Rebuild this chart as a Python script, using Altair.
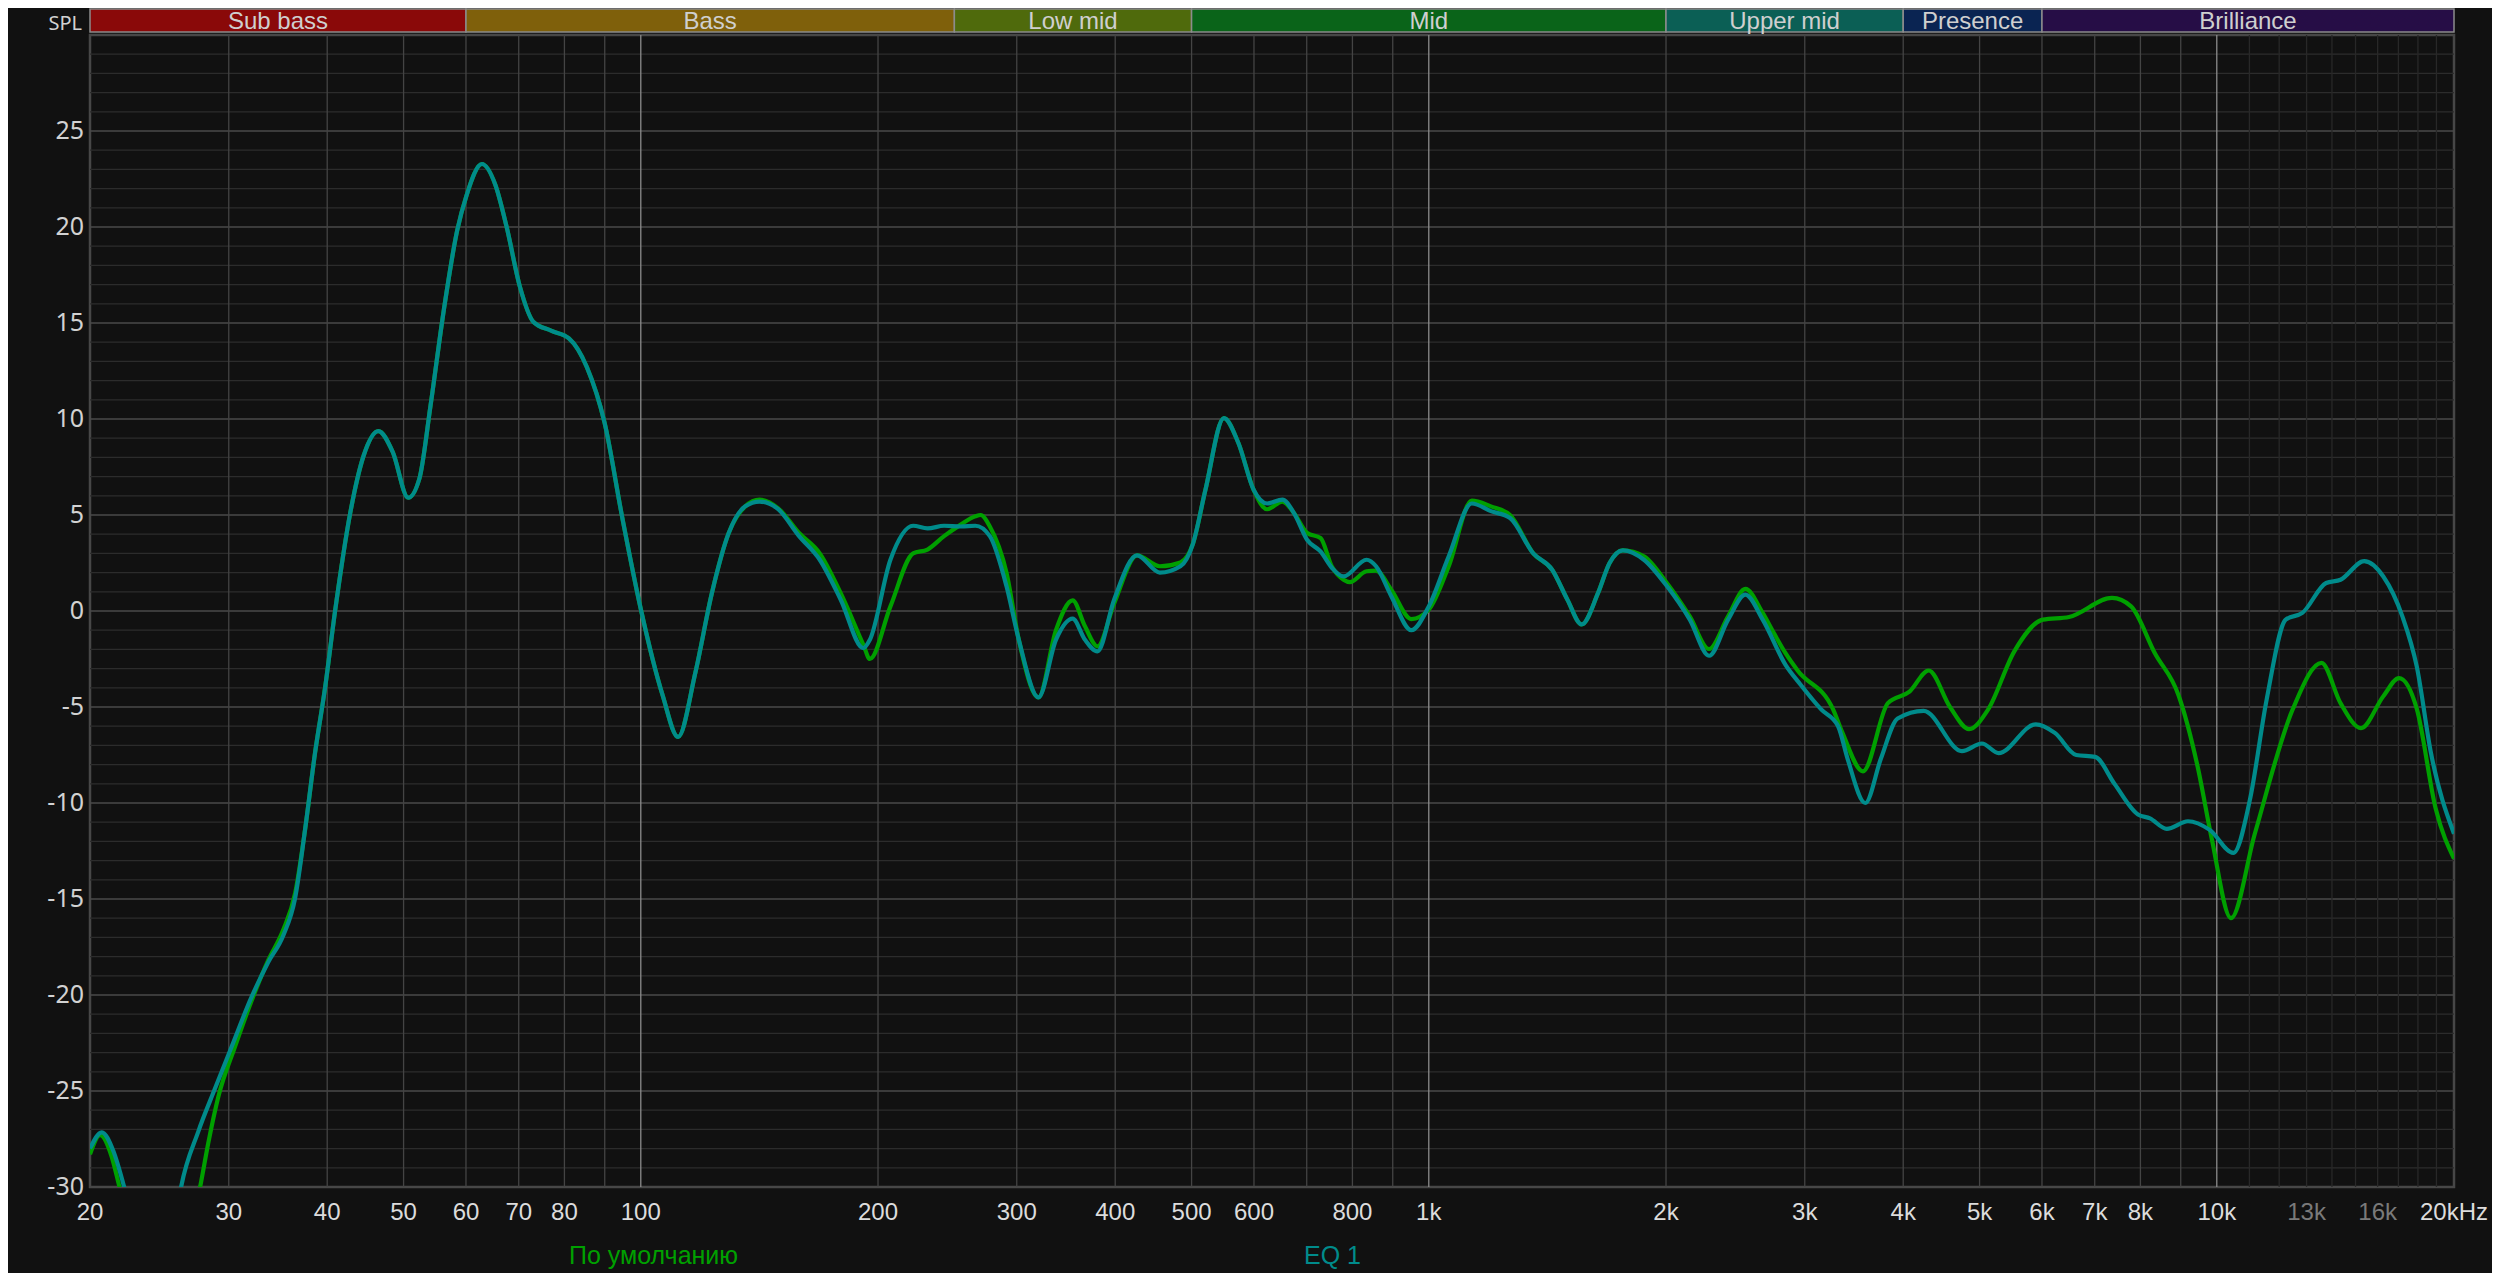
import altair as alt
import pandas as pd

# ---------------- data ----------------
SERIES_NAMES = ["По умолчанию", "EQ 1"]
SERIES_COLORS = ["#00a000", "#008b8b"]

# "По умолчанию" (green)
DEF_FREQ = [20.0, 20.6, 21.3, 21.8, 23.0, 25.0, 26.5, 27.59, 28.26, 29.1, 30.55, 32.07, 33.66, 35.18, 36.42,
            37.49, 38.6, 39.75, 40.93, 42.78, 44.5, 46.45, 48.42, 50.69, 52.37, 54.1, 56.25, 58.5, 60.05,
            62.86, 65.37, 67.53, 70.23, 73.03, 76.93, 81.06, 85.42, 89.96, 94.8, 100, 106.6, 111.5, 117.3,
            123.1, 129.3, 135.7, 141.5, 149.4, 158.8, 168.7, 179.3, 191.6, 195.3, 207.4, 221.6, 231.1, 242.6,
            254.7, 265.8, 269.9, 277.3, 291.1, 301.8, 319.6, 336.4, 353.2, 366.2, 379.8, 398.8, 426.3, 455.7,
            484.0, 502, 520.6, 549.5, 573.3, 599.6, 623.5, 652, 674.4, 701, 728.8, 753.7, 779.5, 794, 833.7,
            857.2, 896.5, 950.2, 1000, 1060, 1134, 1199, 1268, 1357, 1434, 1499, 1563, 1640, 1696, 1763, 1875,
            2005, 2144, 2268, 2398, 2522, 2653, 2741, 2836, 2938, 3260, 3350, 3556, 3825, 4074, 4309, 4586,
            4848, 5125, 5534, 6016, 6494, 7363, 7784, 8345, 8945, 9455, 9858, 10424, 11175, 12490, 13577,
            14356, 15240, 16268, 17030, 17940, 18960, 20000]
DEF_DB = [-28.3, -27.3, -28.4, -30.0, -33.5, -35.5, -33.0, -30.0, -27.7, -25.3, -22.7, -20.3, -18.2, -16.6, -14.7,
          -11.4, -7.4, -4.0, 0.0, 5.1, 8.1, 9.37, 8.3, 5.9, 6.9, 10.7, 15.7, 19.85, 21.6,
          23.28, 22.2, 20.05, 16.9, 15.07, 14.6, 14.2, 12.7, 9.8, 4.8, 0.1, -4.4, -6.56, -3.2,
          0.94, 4.06, 5.45, 5.8, 5.35, 4.06, 3.0, 0.94, -1.75, -2.5, 0.24, 3.0, 3.2, 3.9,
          4.5, 4.93, 5.0, 4.4, 2.0, -1.5, -4.5, -1.0, 0.55, -0.8, -1.84, 0.4, 2.9, 2.33,
          2.53, 3.5, 6.3, 10.05, 8.75, 6.3, 5.3, 5.7, 5.1, 4.06, 3.8, 2.3, 1.63, 1.5, 2.07,
          2.1, 1.1, -0.42, 0.07, 2.33, 5.75, 5.45, 5.0, 3.0, 2.15, 0.6, -0.7, 0.94, 2.5, 3.16, 2.85,
          1.46, -0.28, -1.98, -0.28, 1.15, -0.1, -1.15, -2.2, -3.1, -5.14, -6.35, -8.35, -4.8, -4.2, -3.1, -5.0,
          -6.15, -5.14, -2.1, -0.45, -0.31, 0.68, 0.24, -2.2, -4.4, -8.1, -11.9, -16.0, -11.6, -5.1, -2.7,
          -4.8, -6.1, -4.44, -3.5, -5.1, -10.3, -12.9]

# "EQ 1" (teal)
EQ_FREQ = [20.0, 20.7, 21.4, 22.1, 23.0, 24.5, 25.5, 26.1, 27.45, 28.8, 30.25, 32.07, 33.66, 35.18, 36.42,
           37.49, 38.6, 39.75, 40.93, 42.78, 44.5, 46.45, 48.42, 50.69, 52.37, 54.1, 56.25, 58.5, 60.05,
           62.86, 65.37, 67.53, 70.23, 73.03, 76.93, 81.06, 85.42, 89.96, 94.8, 100, 106.6, 111.5, 117.3,
           123.1, 129.3, 135.7, 141.5, 149.4, 158.8, 168.7, 179.3, 191.6, 195.3, 207.4, 221.6, 231.1, 242.6,
           254.7, 265.8, 277.3, 291.1, 301.8, 319.6, 336.4, 353.2, 366.2, 379.8, 398.8, 426.3, 455.7,
           484.0, 502, 520.6, 549.5, 573.3, 599.6, 623.5, 652, 674.4, 701, 728.8, 753.7, 779.5, 833.7,
           857.2, 896.5, 950.2, 1000, 1060, 1134, 1199, 1268, 1357, 1434, 1499, 1563, 1640, 1696, 1763, 1875,
           2005, 2144, 2268, 2398, 2522, 2653, 2836, 2959, 3150, 3307, 3400, 3580, 3747, 3935, 4246,
           4749, 5034, 5285, 5892, 6230, 6632, 7009, 7415, 7943, 8227, 8639, 9193, 9795, 10496, 11020,
           11570, 12230, 12840, 13765, 14356, 15385, 16268, 17200, 17940, 18700, 20000]
EQ_DB = [-28.0, -27.15, -28.1, -30.0, -33.0, -34.5, -32.5, -30.0, -27.1, -24.9, -22.7, -20.1, -18.3, -16.9, -14.95,
         -11.4, -7.4, -4.0, 0.0, 5.1, 8.1, 9.37, 8.3, 5.9, 6.9, 10.7, 15.7, 19.85, 21.6,
         23.28, 22.2, 20.05, 16.9, 15.07, 14.6, 14.2, 12.7, 9.8, 4.8, 0.1, -4.4, -6.56, -3.2,
         0.94, 4.06, 5.45, 5.7, 5.3, 3.9, 2.67, 0.6, -1.93, -1.5, 2.67, 4.44, 4.3, 4.44,
         4.4, 4.44, 3.9, 1.3, -1.5, -4.5, -1.5, -0.4, -1.5, -2.1, 0.6, 2.9, 2.0,
         2.33, 3.5, 6.3, 10.05, 8.75, 6.3, 5.6, 5.8, 5.1, 3.7, 3.1, 2.24, 1.8, 2.67,
         2.33, 0.76, -1.0, 0.24, 2.85, 5.6, 5.2, 4.84, 3.0, 2.15, 0.6, -0.7, 0.94, 2.5, 3.16, 2.67,
         1.3, -0.45, -2.33, -0.45, 0.85, -0.45, -2.8, -3.8, -5.14, -6.0, -7.7, -10.0, -7.7, -5.6, -5.2,
         -7.3, -6.9, -7.4, -5.9, -6.35, -7.5, -7.6, -9.0, -10.6, -10.8, -11.35, -10.95, -11.4, -12.6, -9.8,
         -4.6, -0.45, -0.1, 1.46, 1.63, 2.6, 1.8, -0.28, -2.9, -7.4, -11.6]

# frequency bands
BAND_NAMES = ["Sub bass", "Bass", "Low mid", "Mid", "Upper mid", "Presence", "Brilliance"]
BAND_LO = [20, 60, 250, 500, 2000, 4000, 6000]
BAND_HI = [60, 250, 500, 2000, 4000, 6000, 20000]
BAND_COLORS = ["#8a0909", "#7f600b", "#4f6a0c", "#0a6419", "#0b5f55", "#0a2452", "#260d46"]

# x tick labels
X_TICKS = [20, 30, 40, 50, 60, 70, 80, 100, 200, 300, 400, 500, 600, 800, 1000, 2000, 3000, 4000,
           5000, 6000, 7000, 8000, 10000, 13000, 16000, 20000]
X_LABELS = ["20", "30", "40", "50", "60", "70", "80", "100", "200", "300", "400", "500", "600", "800",
            "1k", "2k", "3k", "4k", "5k", "6k", "7k", "8k", "10k", "13k", "16k", "20kHz"]
X_LABEL_DIM = [13000, 16000]

# y tick labels
Y_TICKS = [-30, -25, -20, -15, -10, -5, 0, 5, 10, 15, 20, 25]
Y_LABELS = ["-30", "-25", "-20", "-15", "-10", "-5", "0", "5", "10", "15", "20", "25"]
Y_TITLE = "SPL"

# grid
GRID_DECADES = [100, 1000, 10000]
GRID_NORMAL = [30, 40, 50, 60, 70, 80, 90, 200, 300, 400, 500, 600, 700, 800, 900,
               2000, 3000, 4000, 5000, 6000, 7000, 8000, 9000]
GRID_HF = [11000, 12000, 13000, 14000, 15000, 16000, 17000, 18000, 19000]
Y_MAJOR = [-25, -20, -15, -10, -5, 0, 5, 10, 15, 20, 25]
Y_MINOR = [v for v in range(-29, 30) if v % 5 != 0]

# ---------------- chart ----------------
W, H = 2364, 1152
FONT = "Liberation Sans, Arial, sans-serif"

xs = alt.Scale(type="log", domain=[20, 20000], nice=False)
ys = alt.Scale(domain=[-30, 30], nice=False, zero=False)


def xenc(field):
    return alt.X(f"{field}:Q", scale=xs, axis=None)


def yenc(field):
    return alt.Y(f"{field}:Q", scale=ys, axis=None)


curves = pd.concat([
    pd.DataFrame({"f": DEF_FREQ, "db": DEF_DB, "s": SERIES_NAMES[0]}),
    pd.DataFrame({"f": EQ_FREQ, "db": EQ_DB, "s": SERIES_NAMES[1]}),
])

grid_minor_y = alt.Chart(pd.DataFrame({"v": Y_MINOR})).mark_rule(color="#2c2c2c", strokeWidth=1.2).encode(y=yenc("v"))
grid_major_y = alt.Chart(pd.DataFrame({"v": Y_MAJOR})).mark_rule(color="#4a4a4a", strokeWidth=1.4).encode(y=yenc("v"))
grid_hf = alt.Chart(pd.DataFrame({"f": GRID_HF})).mark_rule(color="#282828", strokeWidth=1.3).encode(x=xenc("f"))
grid_norm = alt.Chart(pd.DataFrame({"f": GRID_NORMAL})).mark_rule(color="#444444", strokeWidth=1.3).encode(x=xenc("f"))
grid_dec = alt.Chart(pd.DataFrame({"f": GRID_DECADES})).mark_rule(color="#8c8c8c", strokeWidth=1.3).encode(x=xenc("f"))


def curve(name, color):
    return alt.Chart(curves).transform_filter(alt.datum.s == name).mark_line(
        color=color, strokeWidth=4.2, interpolate="monotone", clip=True).encode(
        x=xenc("f"), y=yenc("db"), order="f:Q")


bands = pd.DataFrame({"name": BAND_NAMES, "lo": BAND_LO, "hi": BAND_HI, "col": BAND_COLORS})
bands["mid"] = (bands["lo"] * bands["hi"]) ** 0.5
band_rect = alt.Chart(bands).mark_rect(stroke="#8c8c8c", strokeWidth=1.5).encode(
    x=xenc("lo"), x2="hi:Q", y=alt.value(-26), y2=alt.value(-3),
    fill=alt.Color("col:N", scale=None))
band_text = alt.Chart(bands).mark_text(font=FONT, fontSize=24, color="#cfcfcf", baseline="middle", dy=1).encode(
    x=xenc("mid"), y=alt.value(-14), text="name:N")

ticks = pd.DataFrame({"f": X_TICKS, "lab": X_LABELS})
ticks["col"] = ["#7a7a7a" if f in X_LABEL_DIM else "#dcdcdc" for f in X_TICKS]
x_labels = alt.Chart(ticks).mark_text(font=FONT, fontSize=24, baseline="middle").encode(
    x=xenc("f"), y=alt.value(H + 26), text="lab:N", color=alt.Color("col:N", scale=None))

y_labels = alt.Chart(pd.DataFrame({"v": Y_TICKS, "lab": Y_LABELS})).mark_text(
    font="Noto Sans", fontSize=25, color="#d2d2d2", align="right", baseline="middle").encode(
    x=alt.value(-6), y=yenc("v"), text="lab:N")

spl = alt.Chart(pd.DataFrame({"t": [Y_TITLE]})).mark_text(
    font="Noto Sans", fontSize=20, color="#d2d2d2", align="right", baseline="middle").encode(
    x=alt.value(-8), y=alt.value(-11), text="t:N")

leg1 = alt.Chart(pd.DataFrame({"t": [SERIES_NAMES[0]]})).mark_text(
    font=FONT, fontSize=25, color=SERIES_COLORS[0], align="left", baseline="middle").encode(
    x=alt.value(479), y=alt.value(H + 69), text="t:N")
leg2 = alt.Chart(pd.DataFrame({"t": [SERIES_NAMES[1]]})).mark_text(
    font=FONT, fontSize=25, color=SERIES_COLORS[1], align="left", baseline="middle").encode(
    x=alt.value(1214), y=alt.value(H + 69), text="t:N")

chart = alt.layer(
    grid_minor_y, grid_major_y, grid_hf, grid_norm, grid_dec,
    curve(SERIES_NAMES[0], SERIES_COLORS[0]), curve(SERIES_NAMES[1], SERIES_COLORS[1]),
    band_rect, band_text, x_labels, y_labels, spl, leg1, leg2,
).properties(
    width=W, height=H,
    autosize=alt.AutoSizeParams(type="none"),
    padding={"left": 82, "top": 27, "right": 38, "bottom": 86},
    background="#111111",
).configure_view(stroke="#474747", strokeWidth=2.5)

chart.save("out.html", embed_options={"renderer": "svg", "actions": False})
